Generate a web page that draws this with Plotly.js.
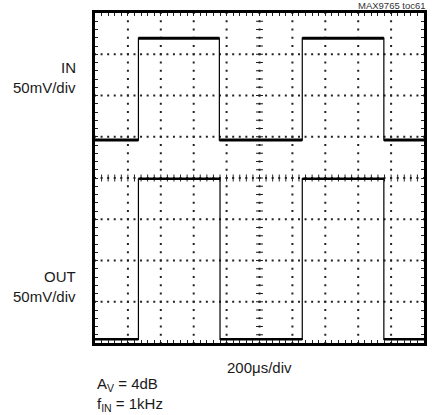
<!DOCTYPE html>
<html>
<head>
<meta charset="utf-8">
<script src="https://cdn.plot.ly/plotly-3.0.1.min.js"></script>
<style>
  html, body { margin: 0; padding: 0; background: #fff; }
  #scope { width: 437px; height: 415px; }
</style>
</head>
<body>
<div id="scope"></div>
<script>
// Scope capture: time in divisions (200us/div), amplitude in divisions (50mV/div)
const inEdges   = [1.32, 3.78, 6.30, 8.78];
const inLevels  = [0.92, 3.39, 0.92, 3.39, 0.92];
const outEdges  = [1.32, 3.80, 6.30, 8.78];
const outLevels = [-3.91, -0.02, -3.91, -0.02, -3.91];
const timeSpan  = [0, 10];
const voltSpan  = [-4, 4];

// Square wave as a polyline: flat level, vertical edge, next level...
function stepPath(edges, levels) {
  const x = [timeSpan[0]], y = [levels[0]];
  edges.forEach((t, i) => {
    x.push(t, t);
    y.push(levels[i], levels[i + 1]);
  });
  x.push(timeSpan[1]); y.push(levels[levels.length - 1]);
  return { x, y };
}
// Only the flat portions, which carry the trace noise and look heavier
function flatPath(edges, levels) {
  const bounds = [timeSpan[0], ...edges, timeSpan[1]];
  const x = [], y = [];
  levels.forEach((v, i) => {
    x.push(bounds[i], bounds[i + 1], null);
    y.push(v, v, null);
  });
  return { x, y };
}

// Graticule: dotted lines every division, dots each 1/5 division
const gx = [], gy = [];
for (let d = 1; d < 10; d++) for (let k = 0; k <= 40; k++) { gx.push(d); gy.push(-4 + k * 0.2); }
for (let d = -3; d <= 3; d++) for (let k = 0; k <= 50; k++) { gx.push(k * 0.2); gy.push(d); }
// Centre cross ticks
const cxX = [], cxY = [], cyX = [], cyY = [];
for (let k = 1; k < 50; k++) { cxX.push(k * 0.2); cxY.push(0); }
for (let k = 1; k < 40; k++) { cyX.push(5); cyY.push(-4 + k * 0.2); }

const inStep = stepPath(inEdges, inLevels), inFlat = flatPath(inEdges, inLevels);
const outStep = stepPath(outEdges, outLevels), outFlat = flatPath(outEdges, outLevels);

const traces = [
  { x: gx, y: gy, mode: 'markers', marker: { symbol: 'square', size: 2, color: '#222' }, hoverinfo: 'skip' },
  { x: cxX, y: cxY, mode: 'markers', marker: { symbol: 'line-ns', size: 5, line: { width: 1, color: '#222' } }, hoverinfo: 'skip' },
  { x: cyX, y: cyY, mode: 'markers', marker: { symbol: 'line-ew', size: 5, line: { width: 1, color: '#222' } }, hoverinfo: 'skip' },
  { x: inStep.x, y: inStep.y, mode: 'lines', line: { color: '#000', width: 1.2 } },
  { x: inFlat.x, y: inFlat.y, mode: 'lines', line: { color: '#000', width: 3 } },
  { x: outStep.x, y: outStep.y, mode: 'lines', line: { color: '#000', width: 1.2 } },
  { x: outFlat.x, y: outFlat.y, mode: 'lines', line: { color: '#000', width: 2.5 } }
];

// Plot box in page pixels, used to place the side texts
const L = 95, R = 424, T = 13, B = 343, W = 437, H = 415;
const px = v => (v - L) / (R - L);
const py = v => (B - v) / (B - T);
const font = 'Liberation Sans, Arial, Helvetica, sans-serif';
function label(text, x, y, xanchor, size, color) {
  return { text, x: px(x), y: py(y), xref: 'paper', yref: 'paper', xanchor, yanchor: 'middle',
           showarrow: false, font: { family: font, size: size || 15, color: color || '#1a1a1a' } };
}

const axisCommon = {
  showgrid: false, zeroline: false, showticklabels: false,
  showline: true, linewidth: 3, linecolor: '#000', mirror: 'ticks',
  ticks: 'inside', ticklen: 3, tickwidth: 1, tickcolor: '#222', dtick: 0.2
};

const layout = {
  width: W, height: H,
  margin: { l: L, r: W - R, t: T, b: H - B },
  paper_bgcolor: '#fff', plot_bgcolor: '#fff',
  showlegend: false,
  xaxis: Object.assign({ range: timeSpan, tick0: 0 }, axisCommon),
  yaxis: Object.assign({ range: voltSpan, tick0: -4 }, axisCommon),
  annotations: [
    label('MAX9765 toc61', 428, 6, 'right', 9.5, '#333'),
    label('IN', 78, 68, 'right'),
    label('50mV/div', 78, 87, 'right'),
    label('OUT', 78, 276, 'right'),
    label('50mV/div', 78, 296, 'right'),
    label('200μs/div', 259, 367, 'center'),
    label('A<sub>V</sub> = 4dB', 95, 384, 'left'),
    label('f<sub>IN</sub> = 1kHz', 95, 404, 'left')
  ]
};

Plotly.newPlot('scope', traces, layout, { staticPlot: true, displayModeBar: false });
</script>
</body>
</html>
